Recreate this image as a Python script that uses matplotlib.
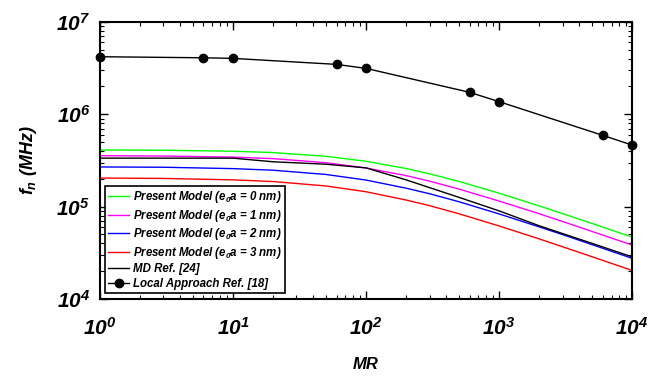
import numpy as np
import matplotlib
matplotlib.use('Agg')
import matplotlib.pyplot as plt

plt.rcParams['font.family'] = ['Liberation Sans', 'DejaVu Sans']
plt.rcParams['font.weight'] = 'bold'
plt.rcParams['font.style'] = 'italic'
plt.rcParams['mathtext.fontset'] = 'custom'
plt.rcParams['mathtext.rm'] = 'Liberation Sans:bold:italic'
plt.rcParams['mathtext.it'] = 'Liberation Sans:bold:italic'
plt.rcParams['mathtext.bf'] = 'Liberation Sans:bold:italic'

# present model curves
mr = [1, 3, 10, 20, 50, 100, 200, 300, 500, 1000, 2000, 3000, 5000, 10000]
f_e0 = [4.11e5, 4.08e5, 3.98e5, 3.85e5, 3.51e5, 3.10e5, 2.59e5, 2.27e5, 1.875e5,
        1.40e5, 1.02e5, 8.41e4, 6.58e4, 4.68e4]
f_e1 = [3.56e5, 3.53e5, 3.44e5, 3.31e5, 2.99e5, 2.62e5, 2.17e5, 1.89e5, 1.55e5,
        1.15e5, 8.39e4, 6.91e4, 5.39e4, 3.84e4]
f_e2 = [2.69e5, 2.67e5, 2.58e5, 2.48e5, 2.23e5, 1.94e5, 1.585e5, 1.38e5, 1.13e5,
        8.34e4, 6.04e4, 4.98e4, 3.88e4, 2.755e4]
f_e3 = [2.04e5, 2.02e5, 1.95e5, 1.87e5, 1.675e5, 1.45e5, 1.18e5, 1.026e5, 8.37e4,
        6.18e4, 4.48e4, 3.68e4, 2.87e4, 2.04e4]

# MD reference
mr_md = [1, 10, 20, 50, 100, 200, 500, 1000, 2000, 5000, 10000]
f_md = [3.35e5, 3.35e5, 3.06e5, 2.88e5, 2.63e5, 1.95e5, 1.26e5, 9.0e4, 6.21e4, 4.0e4, 2.86e4]

# local approach
mr_loc = [1, 6, 10, 60, 100, 600, 1000, 6000, 10000]
f_loc = [4.20e6, 4.09e6, 4.03e6, 3.47e6, 3.14e6, 1.73e6, 1.37e6, 5.92e5, 4.64e5]

fig = plt.figure(figsize=(6.49, 3.78), dpi=100)
ax = fig.add_axes([0.154, 0.209, 0.820, 0.733])

ax.plot(mr, f_e0, color='#00ff00', lw=1, label=r'Present Model ($e_0a$ = 0 nm)')
ax.plot(mr, f_e1, color='#ff00ff', lw=1, label=r'Present Model ($e_0a$ = 1 nm)')
ax.plot(mr, f_e2, color='#0000ff', lw=1, label=r'Present Model ($e_0a$ = 2 nm)')
ax.plot(mr, f_e3, color='#ff0000', lw=1, label=r'Present Model ($e_0a$ = 3 nm)')
ax.plot(mr_md, f_md, color='k', lw=1, label='MD Ref. [24]')
ax.plot(mr_loc, f_loc, color='k', lw=1, marker='o', ms=6, clip_on=False,
        label='Local Approach Ref. [18]')

ax.set_xscale('log')
ax.set_yscale('log')
ax.set_xlim(1, 1e4)
ax.set_ylim(1e4, 1e7)

for s in ax.spines.values():
    s.set_linewidth(1.5)
ax.tick_params(which='both', direction='in', top=True, right=True)
ax.tick_params(which='major', length=6, width=1, labelsize=15)
ax.tick_params(axis='x', which='major', pad=13)
ax.tick_params(axis='y', which='major', pad=7)
ax.tick_params(which='minor', length=3, width=0.8)

ax.set_xlabel('MR', fontsize=12, fontweight='bold', labelpad=13)
ax.set_ylabel(r'$f_n$ (MHz)', fontsize=13, fontweight='bold', labelpad=12)

leg = ax.legend(loc='lower left', bbox_to_anchor=(0.009, 0.02), borderaxespad=0,
                fontsize=8.3, handlelength=1.8, labelspacing=0.22, fancybox=False,
                edgecolor='k', framealpha=1, borderpad=0.3, handletextpad=0.35)
leg.get_frame().set_linewidth(1.2)

fig.savefig('out.png', dpi=100)
